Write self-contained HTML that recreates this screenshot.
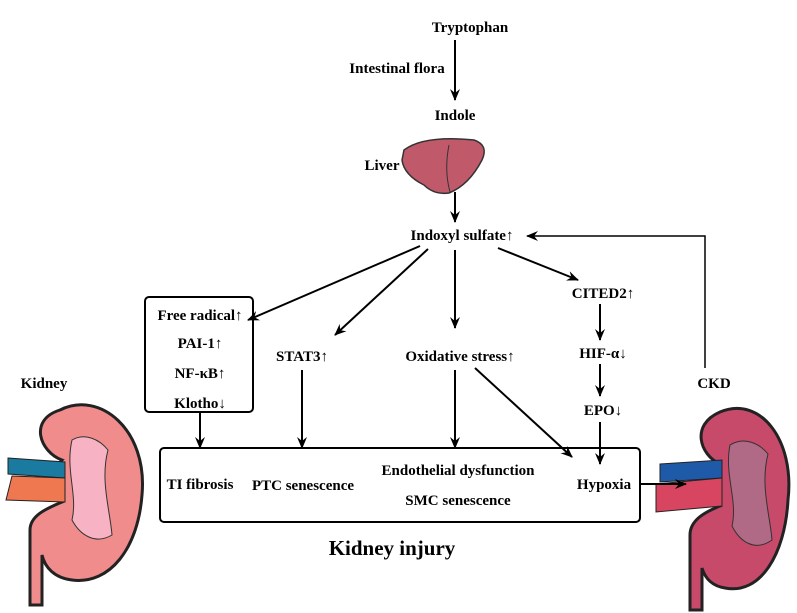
<!DOCTYPE html>
<html><head><meta charset="utf-8"><style>
body{margin:0;background:#fff}
svg{display:block}
text{font-family:"Liberation Serif",serif;font-weight:bold;font-size:15px;fill:#000}
</style></head><body>
<svg width="797" height="613" viewBox="0 0 797 613">
<defs><marker id="a" markerWidth="12" markerHeight="10" refX="11" refY="5" orient="auto" markerUnits="userSpaceOnUse"><path d="M0,0 L12,5 L0,10 L4,5z" fill="#000"/></marker></defs>
<!-- left kidney -->
<path d="M60,410 C100,390 148,430 142,495 C138,548 110,585 72,580 C55,578 45,568 42,555 L42,605 L30,605 L30,530 C30,515 48,508 62,502 C52,490 52,470 62,460 C40,452 28,420 60,410z" fill="#f08c8c" stroke="#222" stroke-width="3"/>
<path d="M72,440 C85,432 100,440 108,450 C100,480 110,510 112,535 C95,545 80,535 72,520 C78,495 65,470 72,440z" fill="#f7b3c4" stroke="#333"/>
<path d="M8,458 L65,462 L65,478 L8,474z" fill="#1a7aa0" stroke="#222"/>
<path d="M12,476 L65,478 L65,502 L6,500z" fill="#f07850" stroke="#222"/>
<!-- right kidney -->
<path d="M720,412 C760,395 795,440 788,500 C785,555 760,595 725,588 C712,586 705,578 702,568 L702,610 L690,610 L690,535 C690,520 705,512 720,506 C710,494 710,474 720,464 C700,455 690,425 720,412z" fill="#c74a6a" stroke="#222" stroke-width="3"/>
<path d="M730,445 C745,436 760,444 768,454 C760,485 770,515 772,540 C755,552 740,542 732,526 C738,500 724,475 730,445z" fill="#b06a85" stroke="#333"/>
<path d="M660,464 L722,460 L722,478 L660,482z" fill="#1f5aa8" stroke="#222"/>
<path d="M656,484 L722,478 L722,506 L656,512z" fill="#d84560" stroke="#222"/>
<!-- liver -->
<path d="M404,150 Q424,135 474,140 Q489,145 482,160 Q469,185 449,193 Q434,195 424,185 Q404,175 402,160z" fill="#c05a6a" stroke="#333" stroke-width="1.5"/>
<path d="M449,145 Q444,170 450,192" stroke="#333" fill="none"/>
<g stroke="#000" stroke-width="2" fill="none" marker-end="url(#a)">
<line x1="455" y1="40" x2="455" y2="100"/>
<line x1="455" y1="192" x2="455" y2="222"/>
<line x1="420" y1="246" x2="248" y2="320"/>
<line x1="428" y1="249" x2="335" y2="335"/>
<line x1="455" y1="250" x2="455" y2="328"/>
<line x1="498" y1="248" x2="578" y2="280"/>
<line x1="600" y1="304" x2="600" y2="340"/>
<line x1="600" y1="364" x2="600" y2="396"/>
<line x1="600" y1="422" x2="600" y2="464"/>
<line x1="200" y1="412" x2="200" y2="448"/>
<line x1="302" y1="370" x2="302" y2="448"/>
<line x1="455" y1="370" x2="455" y2="448"/>
<line x1="475" y1="368" x2="572" y2="457"/>
<line x1="640" y1="484" x2="686" y2="484"/>
<polyline stroke-width="1.5" points="705,368 705,236 527,236"/>
</g>
<rect x="145" y="297" width="108" height="115" rx="4" fill="none" stroke="#000" stroke-width="2"/>
<rect x="160" y="448" width="480" height="74" rx="4" fill="none" stroke="#000" stroke-width="2"/>
<text x="470" y="32" text-anchor="middle">Tryptophan</text>
<text x="397" y="73" text-anchor="middle">Intestinal flora</text>
<text x="455" y="120" text-anchor="middle">Indole</text>
<text x="382" y="170" text-anchor="middle">Liver</text>
<text x="462" y="240" text-anchor="middle">Indoxyl sulfate↑</text>
<text x="200" y="320" text-anchor="middle">Free radical↑</text>
<text x="200" y="348" text-anchor="middle">PAI-1↑</text>
<text x="200" y="378" text-anchor="middle">NF-κB↑</text>
<text x="200" y="408" text-anchor="middle">Klotho↓</text>
<text x="302" y="361" text-anchor="middle">STAT3↑</text>
<text x="460" y="361" text-anchor="middle">Oxidative stress↑</text>
<text x="603" y="298" text-anchor="middle">CITED2↑</text>
<text x="603" y="358" text-anchor="middle">HIF-α↓</text>
<text x="603" y="415" text-anchor="middle">EPO↓</text>
<text x="200" y="489" text-anchor="middle">TI fibrosis</text>
<text x="303" y="490" text-anchor="middle">PTC senescence</text>
<text x="458" y="475" text-anchor="middle">Endothelial dysfunction</text>
<text x="458" y="505" text-anchor="middle">SMC senescence</text>
<text x="604" y="489" text-anchor="middle">Hypoxia</text>
<text x="44" y="388" text-anchor="middle">Kidney</text>
<text x="714" y="388" text-anchor="middle">CKD</text>
<text x="392" y="555" text-anchor="middle" style="font-size:21px">Kidney injury</text>
</svg>
</body></html>
